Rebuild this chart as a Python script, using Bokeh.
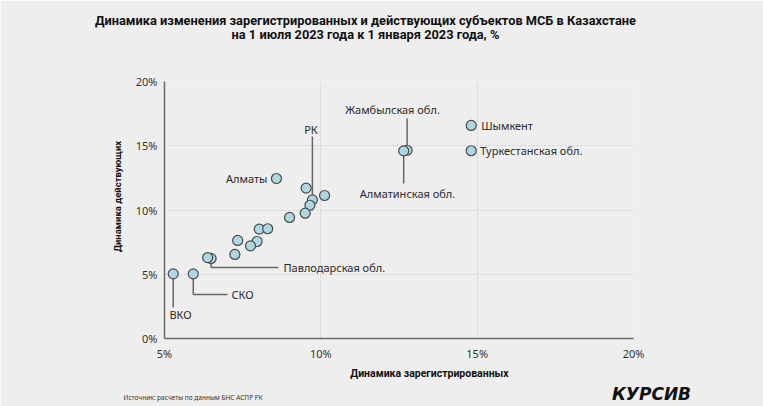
import math
from bokeh.plotting import figure
from bokeh.models import Range1d, FixedTicker, Label, ColumnDataSource
from bokeh.embed import file_html
from bokeh.resources import INLINE

# ---- data (% change, 1 Jul 2023 vs 1 Jan 2023) ----
reg_names = ["Алматы", "Шымкент", "Туркестанская обл.", "Жамбылская обл.",
             "Алматинская обл.", "РК", "Павлодарская обл.", "СКО", "ВКО",
             "", "", "", "", "", "", "", "", "", "", "", ""]
registered = [8.58, 14.81, 14.81, 12.76, 12.65, 9.73, 6.49, 5.92, 5.28,
              9.53, 10.12, 9.65, 9.50, 9.00, 8.03, 8.30, 7.34, 7.96, 7.75, 7.25, 6.38]
active = [12.45, 16.58, 14.61, 14.65, 14.60, 10.79, 6.23, 5.03, 5.03,
          11.70, 11.13, 10.37, 9.75, 9.42, 8.51, 8.54, 7.63, 7.55, 7.21, 6.54, 6.30]
x_ticks = [5, 10, 15, 20]
y_ticks = [0, 5, 10, 15, 20]
x_tick_labels = {5: "5%", 10: "10%", 15: "15%", 20: "20%"}
y_tick_labels = {0: "0%", 5: "5%", 10: "10%", 15: "15%", 20: "20%"}

title1 = "Динамика изменения зарегистрированных и действующих субъектов МСБ в Казахстане"
title2 = "на 1 июля 2023 года к 1 января 2023 года, %"
x_title = "Динамика зарегистрированных"
y_title = "Динамика действующих"
source_text = "Источник: расчеты по данным БНС АСПР РК"
logo_text = "КУРСИВ"

BG = "#eeeeee"
FONT = "Noto Sans"
NARROW = "Roboto"

W, H = 763, 406
p = figure(width=W, height=H, output_backend="svg", toolbar_location=None,
           x_range=Range1d(5, 20), y_range=Range1d(0, 20),
           min_border_left=164, min_border_right=130,
           min_border_top=81, min_border_bottom=68)
p.background_fill_color = BG
p.border_fill_color = BG
p.outline_line_color = None

# pixel helpers (frame: x 164..633, y 81..338)
def X(px):
    return 5 + (px - 164) * 15 / 469.0

def Y(py):
    return (338 - py) * 20 / 257.0

DX = 15 / 469.0
DY = 20 / 257.0

# axes
for ax in (p.xaxis[0], p.yaxis[0]):
    ax.axis_line_color = "#6a6a6a"
    ax.axis_line_width = 1.5
    ax.major_tick_line_color = None
    ax.minor_tick_line_color = None
    ax.major_label_text_font = FONT
    ax.major_label_text_font_size = "11px"
    ax.major_label_text_color = "#333333"
p.xaxis.ticker = FixedTicker(ticks=x_ticks)
p.yaxis.ticker = FixedTicker(ticks=y_ticks)
p.xaxis.major_label_overrides = x_tick_labels
p.yaxis.major_label_overrides = y_tick_labels
p.xaxis.major_label_standoff = 1
p.yaxis.major_label_standoff = 1

p.xgrid.ticker = FixedTicker(ticks=[10, 15])
p.ygrid.ticker = FixedTicker(ticks=[5, 10, 15, 20])
for g in (p.xgrid[0], p.ygrid[0]):
    g.grid_line_color = "#cfcfcf"
    g.grid_line_dash = "2 2"
    g.grid_line_width = 1

# leader lines
idx = {n: i for i, n in enumerate(reg_names) if n}
LC = "#666666"
def vline(x, y0, y1):
    p.segment(x0=[x], y0=[y0], x1=[x], y1=[y1], line_color=LC, line_width=1.5)
def hline(x0, x1, y):
    p.segment(x0=[x0], y0=[y], x1=[x1], y1=[y], line_color=LC, line_width=1.5)

i = idx["РК"]
vline(registered[i], Y(136), active[i] + 4 * DY)
i = idx["Жамбылская обл."]
vline(registered[i], Y(118), active[i] + 4 * DY)
i = idx["Алматинская обл."]
vline(registered[i], active[i] - 4 * DY, Y(183))
i = idx["Павлодарская обл."]
vline(registered[i], active[i] - 4 * DY, Y(267))
hline(registered[i], X(278), Y(267))
i = idx["СКО"]
vline(registered[i], active[i] - 4 * DY, Y(294))
hline(registered[i], X(227), Y(294))
i = idx["ВКО"]
vline(registered[i], active[i] - 4 * DY, Y(307))

src = ColumnDataSource(dict(x=registered, y=active, name=reg_names))
p.scatter("x", "y", source=src, size=10, fill_color="#aed6e3",
          line_color="#4a4a4a", line_width=1.2)

def lab(x, y, text, align="left", baseline="middle", size="11px", font=FONT,
        style="normal", color="#2a2a2a", angle=0, place="center"):
    p.add_layout(Label(x=x, y=y, text=text, text_align=align,
                       text_baseline=baseline, text_font=font,
                       text_font_size=size, text_font_style=style,
                       text_color=color, angle=angle), place)

# point labels
i = idx["Алматы"]
lab(registered[i] - 9 * DX, active[i], "Алматы", align="right")
i = idx["Шымкент"]
lab(registered[i] + 10 * DX, active[i], "Шымкент")
i = idx["Туркестанская обл."]
lab(registered[i] + 9 * DX, active[i], "Туркестанская обл.")
i = idx["РК"]
lab(registered[i] - 1.5 * DX, Y(129), "РК", align="center")
lab(X(392), Y(109), "Жамбылская обл.", align="center")
lab(X(407), Y(193), "Алматинская обл.", align="center")
lab(X(283), Y(267), "Павлодарская обл.")
lab(X(231), Y(294), "СКО")
lab(X(180), Y(314), "ВКО", align="center")

# titles and texts (outside the frame, placed in side panels)
lab(X(365), Y(20), title1, align="center", size="12.8px", font=NARROW,
    style="bold", color="#111111", place="above")
lab(X(365), Y(34), title2, align="center", size="12.8px", font=NARROW,
    style="bold", color="#111111", place="above")
lab(X(429), Y(373), x_title, align="center", size="10.5px", font=NARROW,
    style="bold", color="#111111", place="below")
lab(X(117), Y(196), y_title, align="center", size="9.5px", font=NARROW,
    style="bold", color="#111111", angle=math.pi / 2, place="left")
lab(X(123), Y(397), source_text, align="left", size="6.5px", font=FONT,
    color="#333333", place="below")
lab(X(651), Y(393), logo_text, align="center", size="17px", font="DejaVu Sans",
    style="bold italic", color="#111111", place="below")

open("out.html", "w").write(file_html(p, INLINE))
